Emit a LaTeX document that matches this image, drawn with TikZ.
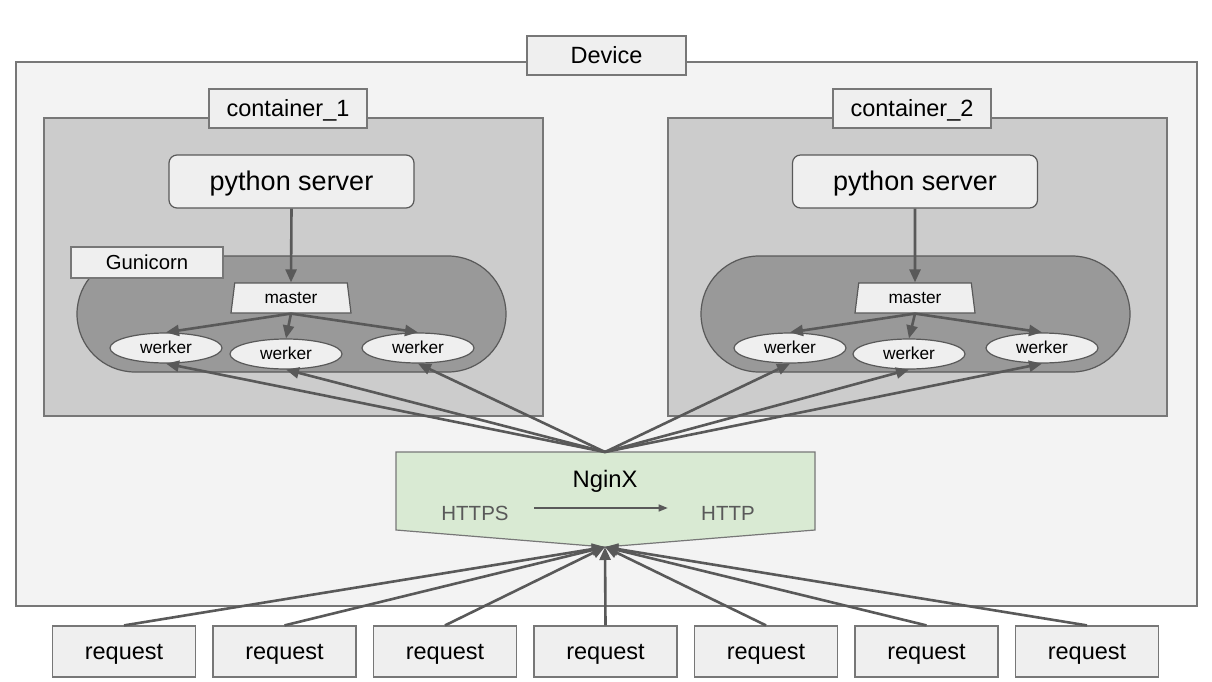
\documentclass[tikz,border=0pt]{standalone}
\usepackage{fontspec}
\setmainfont{Liberation Sans}
\usetikzlibrary{shapes.geometric}
\usetikzlibrary{arrows.meta}

\definecolor{devfill}{HTML}{F3F3F3}
\definecolor{boxfill}{HTML}{EFEFEF}
\definecolor{contfill}{HTML}{CCCCCC}
\definecolor{gunfill}{HTML}{999999}
\definecolor{ngxfill}{HTML}{D9EAD3}
\definecolor{edge}{HTML}{777777}
\definecolor{linegray}{HTML}{595959}

\begin{document}
\begin{tikzpicture}[x=1pt,y=-1pt,
    fs/.style={font=\fontsize{#1}{#1}\selectfont,text height={0.9*#1pt},text depth={0.21*#1pt}},
    lbl/.style={fs=23.5,draw=edge,fill=boxfill,line width=1.2pt,inner sep=0pt},
    werk/.style={fs=17.3,ellipse,draw=linegray,fill=boxfill,line width=1.2pt,inner sep=0pt,minimum width=112pt,minimum height=30pt},
    mast/.style={fs=17.3,trapezium,trapezium angle=79,trapezium stretches body,draw=linegray,fill=boxfill,line width=1.2pt,inner sep=0pt,minimum width=120pt,minimum height=30pt},
    serv/.style={fs=27,draw=linegray,fill=boxfill,line width=1.2pt,rounded corners=8pt,minimum width=245pt,minimum height=53pt},
    gun/.style={draw=linegray,fill=gunfill,line width=1.2pt,rounded corners=58pt,minimum width=429pt,minimum height=116pt},
    arr/.style={draw=linegray,line width=2.6pt,-{Triangle[length=13pt,width=11pt]}}]
    \useasboundingbox (0,0) rectangle (1212,682);

    % Device
    \draw[draw=edge,fill=devfill,line width=1.2pt] (16,62) rectangle (1197,606);
    \node[lbl,minimum width=159pt,minimum height=39pt] (device) at (606.5,55.5) {Device};

    % Containers
    \draw[draw=edge,fill=contfill,line width=1.2pt] (44,118) rectangle (543,416);
    \draw[draw=edge,fill=contfill,line width=1.2pt] (668,118) rectangle (1167,416);
    \node[lbl,minimum width=158pt,minimum height=39pt] (cont1) at (288,108.5) {container\_1};
    \node[lbl,minimum width=158pt,minimum height=39pt] (cont2) at (912,108.5) {container\_2};

    % Gunicorn
    \node[gun] (gun1) at (291.5,314) {};
    \node[gun] (gun2) at (915.5,314) {};
    \node[lbl,fs=20.3,minimum width=152pt,minimum height=31pt] (gunlbl) at (147,262.5) {Gunicorn};

    % Servers and workers
    \node[serv] (ps1) at (291.5,181.5) {python server};
    \node[serv] (ps2) at (915,181.5) {python server};
    \node[mast] (m1) at (291,298) {master};
    \node[mast] (m2) at (915,298) {master};
    \node[werk] (w11) at (166,348) {werker};
    \node[werk] (w12) at (286,354) {werker};
    \node[werk] (w13) at (418,348) {werker};
    \node[werk] (w21) at (790,348) {werker};
    \node[werk] (w22) at (909,354) {werker};
    \node[werk] (w23) at (1042,348) {werker};

    \draw[arr] (ps1.south) -- (m1.north);
    \draw[arr] (ps2.south) -- (m2.north);
    \foreach \c in {1,2} {
        \foreach \w in {1,2,3} {
            \draw[arr] (m\c.south) -- (w\c\w.north);
        }
    }

    % NginX
    \draw[draw=edge,fill=ngxfill,line width=1.2pt] (396,452) -- (815,452) -- (815,530) -- (605,547) -- (396,530) -- cycle;
    \coordinate (ngtop) at (605,452);
    \coordinate (ngtip) at (605,547);
    \node[fs=23.8] (nginx) at (605,479) {NginX};
    \node[fs=20.5,text=linegray] (https) at (475,513) {HTTPS};
    \node[fs=20.5,text=linegray] (http) at (728,513) {HTTP};
    \draw[draw=linegray,line width=1.3pt,-{Triangle[length=9pt,width=7pt]},shorten <=22pt,shorten >=30pt] ([yshift=5pt]https.east) -- ([yshift=5pt]http.west);

    \foreach \c in {1,2} {
        \foreach \w in {1,2,3} {
            \draw[arr] (ngtop) -- (w\c\w.south);
        }
    }

    % Requests
    \foreach \i in {1,...,7} {
        \node[lbl,minimum width=143pt,minimum height=51pt] (rq\i) at ({605.5+(\i-4)*160.5},651.5) {request};
        \draw[arr] (rq\i.north) -- (ngtip);
    }
\end{tikzpicture}
\end{document}
